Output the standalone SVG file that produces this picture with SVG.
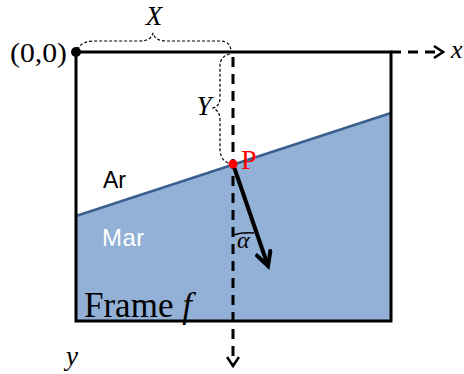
<svg xmlns="http://www.w3.org/2000/svg" width="464" height="374" viewBox="0 0 464 374">
<style>
.serif{font-family:"Liberation Serif","Times New Roman",serif;fill:#000}
.it{font-style:italic}
.sans{font-family:"Liberation Sans",Arial,sans-serif}
.brace{fill:none;stroke:#000;stroke-width:1.2;stroke-dasharray:3 2}
.dash{fill:none;stroke:#000;stroke-width:3;stroke-dasharray:10 7}
</style>
<defs>
<marker id="open" markerWidth="12" markerHeight="14" refX="10" refY="7" orient="auto" markerUnits="userSpaceOnUse">
<path d="M1,1 L10,7 L1,13" fill="none" stroke="#000" stroke-width="2.5"/>
</marker>
<marker id="solid" markerWidth="20" markerHeight="18" refX="16" refY="9" orient="auto" markerUnits="userSpaceOnUse">
<path d="M1,1 L16,9 L1,17" fill="none" stroke="#000" stroke-width="4"/>
</marker>
</defs>
<g id="water">
<polygon points="76,216 391,113 391,321 76,321" fill="#93b1d6"/>
<line x1="76" y1="216" x2="391" y2="113" stroke="#3a5f8f" stroke-width="2.5"/>
</g>
<g id="frame">
<rect x="76" y="52" width="315" height="269" fill="none" stroke="#000" stroke-width="3"/>
</g>
<g id="connectors">
<line class="dash" x1="391" y1="52" x2="443" y2="52" marker-end="url(#open)"/>
<line class="dash" x1="233" y1="57" x2="233" y2="366" marker-end="url(#open)"/>
<path class="brace" d="M78,50 Q80,41 95,41 L140,41 Q151,41 153,33 Q155,41 166,41 L220,41 Q231,41 231,52"/>
<path class="brace" d="M230,54 Q220,56 220,66 L220,98 Q220,106 213,108 Q220,111 220,120 L220,150 Q221,163 233,164"/>
<line x1="233" y1="164" x2="268" y2="266" stroke="#000" stroke-width="4" marker-end="url(#solid)"/>
<path d="M233,235 Q243,232 254,233" fill="none" stroke="#000" stroke-width="1.5"/>
</g>
<g id="origin">
<circle cx="76" cy="52" r="5" fill="#000"/>
<text class="serif" x="10" y="62" font-size="28" textLength="57" lengthAdjust="spacingAndGlyphs">(0,0)</text>
</g>
<g id="labels">
<text class="serif it" x="154" y="25" font-size="27" text-anchor="middle">X</text>
<text class="serif it" x="204" y="115" font-size="27" text-anchor="middle">Y</text>
<text class="serif it" x="451" y="58" font-size="26">x</text>
<text class="serif it" x="66" y="365" font-size="27">y</text>
<circle cx="233" cy="164" r="4.5" fill="#f00"/>
<text x="241" y="169" font-size="28" font-family="Liberation Serif,serif" fill="#f00">P</text>
<text class="serif it" x="237" y="248" font-size="24">α</text>
<text class="sans" x="103" y="188" font-size="23" fill="#000">Ar</text>
<text class="sans" x="102" y="246" font-size="24" fill="#fff" letter-spacing="0.5">Mar</text>
<text class="serif" x="84" y="317" font-size="35">Frame <tspan class="it">f</tspan></text>
</g>
</svg>
